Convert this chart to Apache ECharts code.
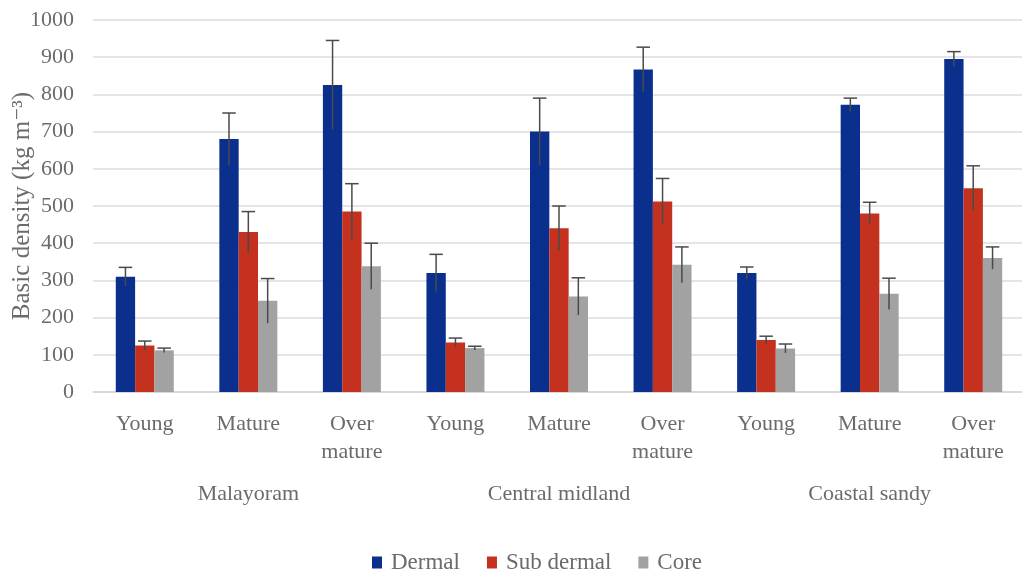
<!DOCTYPE html>
<html>
<head>
<meta charset="utf-8">
<script src="https://cdn.jsdelivr.net/npm/echarts@6/dist/echarts.min.js"></script>
<style>
  html, body { margin: 0; padding: 0; background: #ffffff; }
  #chart { width: 1022px; height: 580px; }
</style>
</head>
<body>
<div id="chart"></div>
<script>
// Basic density of three wood zones by age class and region
const stages = ['Young', 'Mature', 'Over\nmature', 'Young', 'Mature', 'Over\nmature', 'Young', 'Mature', 'Over\nmature'];
const regions = ['Malayoram', 'Central midland', 'Coastal sandy'];
const yTicks = [0, 100, 200, 300, 400, 500, 600, 700, 800, 900, 1000];

const dermal    = [310, 680, 825, 320, 700, 867, 320, 772, 895];
const subDermal = [125, 430, 485, 133, 440, 512, 140, 480, 548];
const core      = [112, 245, 338, 118, 257, 342, 117, 264, 360];

const dermalErr    = [25, 70, 120, 50, 90, 60, 16, 18, 20];
const subDermalErr = [12, 55, 75, 12, 60, 62, 10, 30, 60];
const coreErr      = [6, 60, 62, 5, 50, 48, 12, 42, 30];

const FONT = '"Liberation Serif", "DejaVu Serif", serif';
const TEXT = '#6b6b6b';
const GAP = 0.44;          // category gap share
const N_SERIES = 3;

function errorSeries(name, values, errs, idx) {
  return {
    type: 'custom',
    name: name + ' err',
    xAxisIndex: 0,
    yAxisIndex: 0,
    z: 5,
    silent: true,
    legendHoverLink: false,
    data: values.map((v, i) => [i, v, errs[i]]),
    renderItem: function (params, api) {
      const cat = api.value(0);
      const v = api.value(1);
      const e = api.value(2);
      const band = api.size([1, 0])[0];
      const barW = band * (1 - GAP) / N_SERIES;
      const x = api.coord([cat, v])[0] + (idx - (N_SERIES - 1) / 2) * barW;
      const yHi = api.coord([cat, v + e])[1];
      const yLo = api.coord([cat, v - e])[1];
      const cap = barW * 0.35;
      const style = { stroke: '#4a4a4a', lineWidth: 1.5 };
      return {
        type: 'group',
        children: [
          { type: 'line', shape: { x1: x, y1: yLo, x2: x, y2: yHi }, style: style },
          { type: 'line', shape: { x1: x - cap, y1: yHi, x2: x + cap, y2: yHi }, style: style }
        ]
      };
    }
  };
}

const chart = echarts.init(document.getElementById('chart'), null, { renderer: 'canvas' });

chart.setOption({
  backgroundColor: '#ffffff',
  animation: false,
  textStyle: { fontFamily: FONT },
  grid: { left: 93, top: 20, width: 932, height: 372, containLabel: false, outerBoundsMode: 'none' },
  legend: {
    bottom: 1,
    left: 367,
    data: ['Dermal', 'Sub dermal', 'Core'],
    icon: 'rect',
    itemWidth: 10,
    itemHeight: 12,
    itemGap: 27,
    textStyle: { fontFamily: FONT, fontSize: 23, color: TEXT, padding: [0, 0, 0, 4] }
  },
  xAxis: [
    {
      type: 'category',
      data: stages,
      axisLine: { show: true, lineStyle: { color: '#d4d4d4', width: 1.5 } },
      axisTick: { show: false },
      axisLabel: {
        fontFamily: FONT, fontSize: 22, color: TEXT, margin: 18, lineHeight: 28, interval: 0
      }
    },
    {
      type: 'category',
      data: regions,
      position: 'bottom',
      offset: 83,
      axisLine: { show: false },
      axisTick: { show: false },
      axisLabel: { fontFamily: FONT, fontSize: 22, color: TEXT, interval: 0 }
    }
  ],
  yAxis: {
    type: 'value',
    min: yTicks[0],
    max: yTicks[yTicks.length - 1],
    interval: 100,
    name: 'Basic density (kg m⁻³)',
    nameLocation: 'middle',
    nameRotate: 90,
    nameGap: 58,
    nameMoveOverlap: false,
    nameTextStyle: { fontFamily: FONT, fontSize: 25, color: TEXT },
    axisLine: { show: false },
    axisTick: { show: false },
    axisLabel: {
      fontFamily: FONT, fontSize: 22, color: TEXT, margin: 19,
      formatter: function (v) { return String(v); }
    },
    splitLine: { lineStyle: { color: '#dcdcdc', width: 1.5 } }
  },
  series: [
    {
      name: 'Dermal', type: 'bar', data: dermal,
      barGap: '0%', barCategoryGap: (GAP * 100) + '%',
      itemStyle: { color: '#0b2f8c' }
    },
    {
      name: 'Sub dermal', type: 'bar', data: subDermal,
      barGap: '0%', barCategoryGap: (GAP * 100) + '%',
      itemStyle: { color: '#c4321f' }
    },
    {
      name: 'Core', type: 'bar', data: core,
      barGap: '0%', barCategoryGap: (GAP * 100) + '%',
      itemStyle: { color: '#a2a2a2' }
    },
    errorSeries('Dermal', dermal, dermalErr, 0),
    errorSeries('Sub dermal', subDermal, subDermalErr, 1),
    errorSeries('Core', core, coreErr, 2)
  ]
});
</script>
</body>
</html>
